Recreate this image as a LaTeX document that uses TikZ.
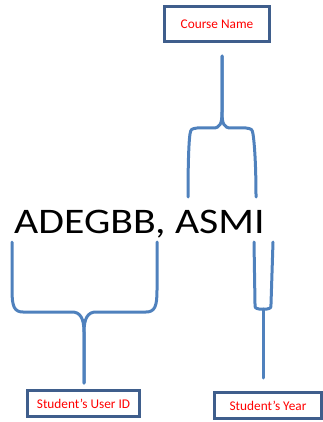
\documentclass[tikz,border=0pt]{standalone}
\usepackage{fontspec}
\setmainfont{Carlito}
\definecolor{boxblue}{HTML}{3F5E8C}
\definecolor{bracecol}{HTML}{4F81BD}
\definecolor{labred}{HTML}{FF0000}
\tikzset{
  labelbox/.style={draw=boxblue, line width=2.6pt, fill=white, text=labred, font=\fontsize{13.3}{15}\selectfont, inner sep=0pt},
  brace/.style={draw=bracecol, line width=3pt, line cap=round, line join=round}
}
\begin{document}
\begin{tikzpicture}[x=1pt,y=-1pt]
\useasboundingbox (0,0) rectangle (322,422);
% labels
\node[labelbox, minimum width=105.5pt, minimum height=35.5pt] (course) at (217,24) {Course Name};
\node[labelbox, minimum width=112.5pt, minimum height=26.5pt] (userid) at (83.5,403.5) {Student’s User ID};
\node[labelbox, minimum width=107.5pt, minimum height=26.5pt] (year) at (268,405.5) {Student’s Year};
% main text
\node[anchor=base west, inner sep=0pt, xscale=1.16, font=\fontsize{36}{40}\selectfont] (code) at (14,233) {ADEGBB, ASMI};
% top brace
\coordinate (ttip) at (222,56);
\draw[brace] (188,197) .. controls (188,160) and (189,140) .. (190,134) .. controls (191,129) .. (197,128) -- (213,128)
  .. controls (220,128) and (222,124) .. (222,112) -- (ttip);
\draw[brace] (ttip) -- (222,112) .. controls (222,124) and (224,128) .. (231,128) -- (246,128)
  .. controls (252,129) .. (253,134) .. controls (254,140) and (256,160) .. (256,197);
% lower left brace
\coordinate (lltip) at (84,383);
\draw[brace] (12,242) -- (12,290) .. controls (12,306) and (14,312) .. (23,312) -- (72,312)
  .. controls (80,312) and (84,318) .. (84,332) -- (lltip);
\draw[brace] (lltip) -- (84,332) .. controls (84,318) and (88,312) .. (96,312) -- (146,312)
  .. controls (155,312) and (157,306) .. (157,290) -- (157,242);
% lower right brace
\coordinate (lrtip) at (263,378);
\draw[brace] (254,242) -- (255,304) .. controls (255,308) .. (259,309) -- (267,309) .. controls (271,308) .. (271,304) -- (273,242);
\draw[brace] (263,309) -- (lrtip);
\end{tikzpicture}
\end{document}
